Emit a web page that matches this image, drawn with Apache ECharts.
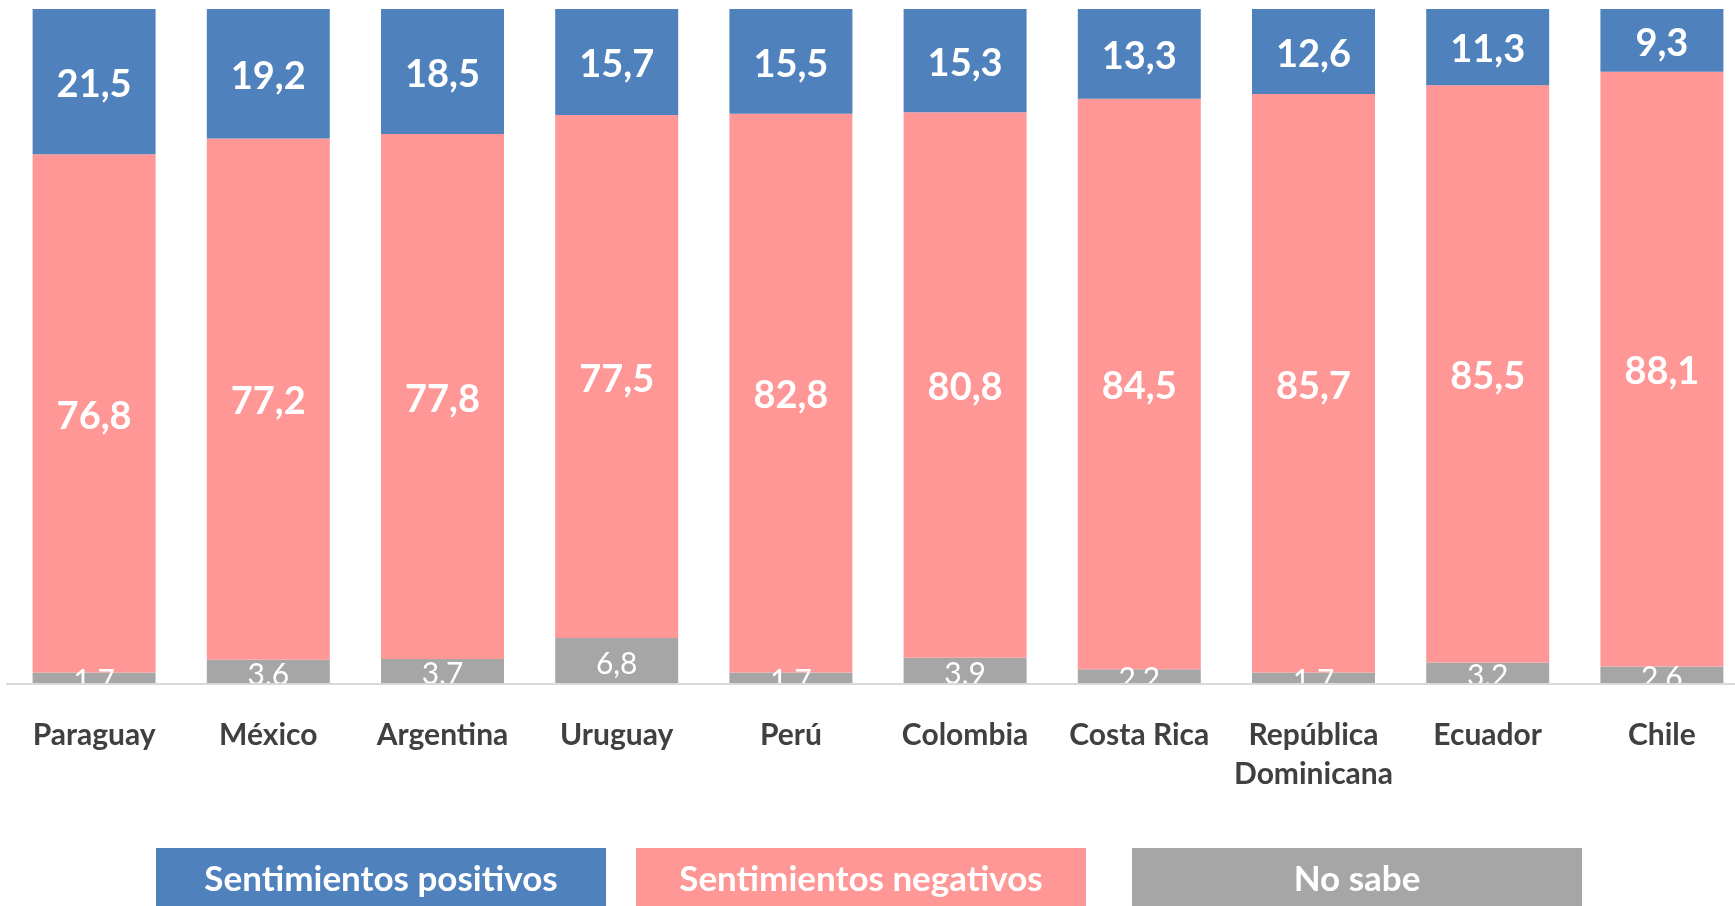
<!DOCTYPE html>
<html>
<head>
<meta charset="utf-8">
<script src="https://cdn.jsdelivr.net/npm/echarts@6/dist/echarts.min.js"></script>
<style>
  html, body { margin: 0; padding: 0; background: #fff; }
  #chart { width: 1735px; height: 906px; }
</style>
</head>
<body>
<div id="chart"></div>
<script>
const countries = ['Paraguay', 'México', 'Argentina', 'Uruguay', 'Perú', 'Colombia', 'Costa Rica', 'República\nDominicana', 'Ecuador', 'Chile']
const noSabe = [1.7, 3.6, 3.7, 6.8, 1.7, 3.9, 2.2, 1.7, 3.2, 2.6]
const negativos = [76.8, 77.2, 77.8, 77.5, 82.8, 80.8, 84.5, 85.7, 85.5, 88.1]
const positivos = [21.5, 19.2, 18.5, 15.7, 15.5, 15.3, 13.3, 12.6, 11.3, 9.3]

const FONT = 'Lato, "Open Sans", sans-serif'
const fmt = (p) => p.value.toFixed(1).replace('.', ',')

const chart = echarts.init(document.getElementById('chart'))

// one legend per box so the gaps can follow the original
const legendItem = (name, color, left) => ({
  left: left,
  top: 848,
  padding: 0,
  icon: 'none',
  itemWidth: 0,
  itemHeight: 0,
  selectedMode: false,
  data: [name],
  formatter: '{box|{name}}',
  textStyle: {
    rich: {
      box: {
        fontFamily: FONT,
        fontWeight: 'bold',
        fontSize: 35,
        color: '#fff',
        backgroundColor: color,
        width: 450,
        height: 64,
        lineHeight: 64,
        align: 'center'
      }
    }
  }
})

const barLabel = (size, weight) => ({
  show: true,
  position: 'inside',
  offset: [0, 3],
  formatter: fmt,
  color: '#fff',
  fontFamily: FONT,
  fontWeight: weight,
  fontSize: size
})

chart.setOption({
  animation: false,
  grid: { left: 7, width: 1742, top: 9, bottom: 222, outerBoundsMode: 'none' },
  legend: [
    legendItem('Sentimientos positivos', '#4F81BD', 151),
    legendItem('Sentimientos negativos', '#FF9797', 631),
    legendItem('No sabe', '#A6A6A6', 1127)
  ],
  xAxis: {
    type: 'category',
    data: countries,
    axisLine: { lineStyle: { color: '#D9D9D9', width: 2 } },
    axisTick: { show: false },
    axisLabel: {
      interval: 0,
      margin: 32,
      fontFamily: FONT,
      fontWeight: 'bold',
      fontSize: 30,
      lineHeight: 39,
      color: '#404040'
    },
    z: 10
  },
  yAxis: { type: 'value', min: 0, max: 100, show: false },
  series: [
    {
      name: 'No sabe',
      type: 'bar',
      stack: 'total',
      barCategoryGap: '29.4%',
      data: noSabe,
      itemStyle: { color: '#A6A6A6' },
      label: barLabel(30, 'normal')
    },
    {
      name: 'Sentimientos negativos',
      type: 'bar',
      stack: 'total',
      data: negativos,
      itemStyle: { color: '#FF9797' },
      label: barLabel(38, 'bold')
    },
    {
      name: 'Sentimientos positivos',
      type: 'bar',
      stack: 'total',
      data: positivos,
      itemStyle: { color: '#4F81BD' },
      label: barLabel(38, 'bold')
    }
  ]
})
</script>
</body>
</html>
